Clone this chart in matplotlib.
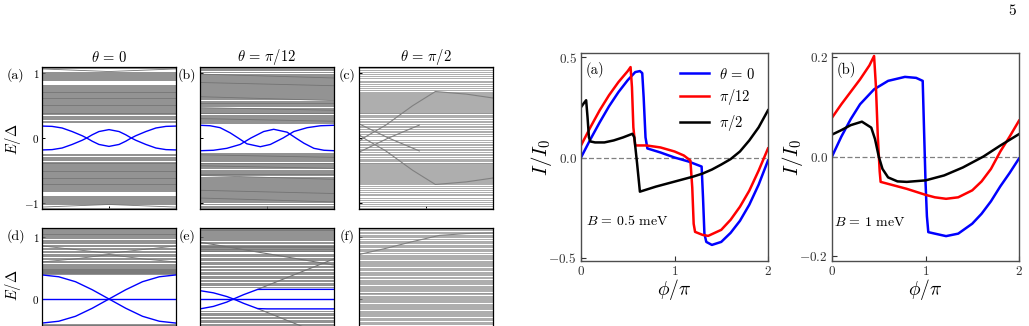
import matplotlib
matplotlib.use("Agg")
import matplotlib.pyplot as plt
import numpy as np

plt.rcParams.update({
    "font.family": "serif",
    "font.serif": ["cmr10", "DejaVu Serif"],
    "mathtext.fontset": "cm",
    "axes.formatter.use_mathtext": True,
    "axes.unicode_minus": True,
})

W, H = 1029, 326

# ---------------- spectra (left) : phi/pi in [0, 2] ----------------
# positive gray levels, drawn particle-hole symmetric (+E, -E)
A_levels = [0.25, 0.265, 0.29, 0.31, 0.33, 0.345, 0.365, 0.38, 0.395, 0.41,
            0.425, 0.44, 0.452, 0.466, 0.478, 0.49, 0.505, 0.518, 0.53,
            0.545, 0.558, 0.57, 0.585, 0.6, 0.612, 0.625, 0.64, 0.652,
            0.665, 0.68, 0.692, 0.705, 0.72, 0.732, 0.745, 0.76, 0.772,
            0.785, 0.80, 0.815, 0.905, 0.92, 0.935, 0.95, 0.965, 0.98,
            0.995, 1.01, 1.025, 1.085, 1.095, 1.10]
A_bend_phi = [0, 0.5, 1.0, 1.5, 2.0]
A_bend = [1.07, 1.05, 1.03, 1.05, 1.07]

B_levels = [0.235, 0.25, 0.265, 0.28, 0.30, 0.315, 0.33, 0.345, 0.36, 0.38,
            0.395, 0.41, 0.425, 0.44, 0.455, 0.47, 0.49, 0.505, 0.52, 0.535,
            0.55, 0.565, 0.58, 0.60, 0.615, 0.63, 0.645, 0.66, 0.675, 0.69,
            0.71, 0.725, 0.74, 0.755, 0.77, 0.785, 0.80, 0.82, 0.835, 0.85,
            0.865, 0.88, 0.895, 0.91, 0.93, 0.945, 0.96, 0.975, 0.99, 1.03,
            1.05, 1.065, 1.08, 1.095]
B_slant_l = [0.99, 0.86, 0.64, 0.47, 0.30]
B_slant_r = [0.93, 0.81, 0.58, 0.43, 0.26]

C_levels = [0.03, 0.06, 0.09, 0.11, 0.14, 0.17, 0.19, 0.22, 0.25, 0.27,
            0.30, 0.32, 0.34, 0.36, 0.38, 0.395, 0.41, 0.425, 0.44, 0.455,
            0.47, 0.485, 0.50, 0.515, 0.53, 0.545, 0.56, 0.575, 0.59, 0.605,
            0.62, 0.635, 0.65, 0.665, 0.68, 0.70, 0.72, 0.745, 0.77, 0.80,
            0.83, 0.86, 0.89, 0.93, 0.96, 0.99, 1.02, 1.05, 1.08]
C_arc_phi = [0, 0.1, 0.4, 0.8, 1.14, 1.6, 2.0]
C_arc = [-0.05, 0.02, 0.2, 0.5, 0.72, 0.68, 0.62]
C_x_phi = [0, 0.44, 0.9]
C_x = [0.22, 0.0, -0.2]

D_levels = [0.41, 0.418, 0.426, 0.434, 0.442, 0.45, 0.458, 0.466, 0.474,
            0.482, 0.49, 0.50, 0.515, 0.535, 0.555, 0.575, 0.60, 0.62, 0.64,
            0.665, 0.69, 0.71, 0.735, 0.76, 0.785, 0.81, 0.83, 0.855, 0.875,
            0.90, 0.92, 0.94, 0.96, 0.98, 1.00, 1.015, 1.03, 1.045, 1.06,
            1.075, 1.09, 1.105, 1.12, 1.135, 1.15]
D_bend_phi = [0, 0.5, 1.0, 1.5, 2.0]
D_bend_a = [0.86, 0.80, 0.74, 0.80, 0.86]
D_bend_b = [0.60, 0.65, 0.72, 0.65, 0.60]

E_levels = [0.20, 0.22, 0.245, 0.265, 0.29, 0.31, 0.335, 0.355, 0.38, 0.40,
            0.425, 0.445, 0.47, 0.49, 0.515, 0.535, 0.56, 0.58, 0.605, 0.625,
            0.65, 0.67, 0.695, 0.715, 0.735, 0.775, 0.785, 0.795, 0.805,
            0.815, 0.825, 0.835, 0.845, 0.855, 0.865, 0.875, 0.90, 0.925,
            0.95, 0.975, 0.99, 1.005, 1.02, 1.035, 1.05, 1.065, 1.08, 1.095,
            1.11, 1.125, 1.14]
E_slant_phi = [0.86, 2.0]
E_slant = [0.156, 0.65]
E_cross_phi = [0.0, 2.0]
E_cross = [0.92, 0.55]

F_levels = [-0.43, -0.41, -0.385, -0.365, -0.345, -0.32, -0.30, -0.28,
            -0.26, -0.245, -0.225, -0.205, -0.19, -0.17, -0.15, -0.13,
            -0.11, -0.095, -0.075, -0.055, -0.04, -0.02, 0.0, 0.015, 0.03,
            0.055, 0.075, 0.09, 0.105, 0.125, 0.145, 0.16, 0.175, 0.20, 0.215,
            0.235, 0.26, 0.275, 0.29, 0.315, 0.34, 0.36, 0.385, 0.41, 0.425,
            0.44, 0.47, 0.485, 0.50, 0.53, 0.545, 0.56, 0.58, 0.60, 0.62,
            0.64, 0.66, 0.68, 0.70, 0.72, 0.75, 0.77, 0.79, 0.81, 0.835,
            0.86, 0.88, 0.90, 0.92, 0.945, 0.97, 1.00, 1.02, 1.04, 1.07,
            1.09, 1.11, 1.13, 1.15]
F_arc_phi = [0, 0.4, 0.8, 1.2, 1.6, 2.0]
F_arc = [0.72, 0.82, 0.93, 1.03, 1.06, 1.07]

# Andreev (blue) levels
a_phi = [0, 0.15, 0.3, 0.45, 0.6, 0.667, 0.75, 0.85, 1.0,
         1.15, 1.25, 1.333, 1.4, 1.55, 1.7, 1.85, 2.0]
a_blue = [0.185, 0.18, 0.155, 0.10, 0.035, 0.0, -0.05, -0.1, -0.13,
          -0.1, -0.05, 0.0, 0.035, 0.10, 0.155, 0.18, 0.185]
b_phi = [0, 0.15, 0.3, 0.45, 0.57, 0.7, 0.9, 1.05, 1.24, 1.4, 1.6, 1.8, 2.0]
b_blue = [0.197, 0.19, 0.16, 0.08, 0.0, -0.09, -0.135, -0.1, 0.0, 0.1,
          0.16, 0.19, 0.197]
d_phi = [0, 0.25, 0.5, 0.75, 1.0, 1.25, 1.5, 1.75, 2.0]
d_blue = [0.39, 0.36, 0.28, 0.15, 0.0, -0.15, -0.28, -0.36, -0.39]
e_phi = [0, 0.2, 0.4, 0.5, 0.65, 0.86, 1.0, 1.5, 2.0]
e_blue_1 = [0.135, 0.10, 0.04, 0.0, -0.07, -0.155, -0.16, -0.16, -0.16]
e_blue_2 = [-0.16, -0.12, -0.05, 0.0, 0.07, 0.155, 0.156, 0.156, 0.156]

# ---------------- current-phase relations (right) ----------------
pa_blue = [0, 0.1, 0.2, 0.3, 0.4, 0.5, 0.58, 0.63, 0.655, 0.67, 0.69, 0.71,
           0.85, 1.0, 1.15, 1.29, 1.305, 1.32, 1.34, 1.4, 1.5, 1.6, 1.7,
           1.8, 1.9, 2.0]
Ia_blue = [0.0, 0.09, 0.175, 0.255, 0.325, 0.385, 0.425, 0.43, 0.42, 0.3,
           0.1, 0.045, 0.025, 0.0, -0.02, -0.045, -0.2, -0.38, -0.42, -0.435,
           -0.42, -0.375, -0.315, -0.235, -0.135, -0.015]
pa_red = [0, 0.1, 0.2, 0.3, 0.4, 0.5, 0.53, 0.545, 0.56, 0.58, 0.7, 0.85,
          1.0, 1.1, 1.17, 1.19, 1.205, 1.22, 1.3, 1.36, 1.5, 1.6, 1.7, 1.8,
          1.9, 2.0]
Ia_red = [0.06, 0.15, 0.235, 0.31, 0.375, 0.43, 0.45, 0.35, 0.15, 0.06,
          0.06, 0.05, 0.03, 0.01, -0.015, -0.15, -0.33, -0.37, -0.385, -0.39,
          -0.36, -0.31, -0.245, -0.165, -0.065, 0.045]
pa_black = [0, 0.03, 0.055, 0.07, 0.085, 0.1, 0.15, 0.25, 0.35, 0.45, 0.55,
            0.57, 0.6, 0.63, 0.8, 1.0, 1.2, 1.3, 1.4, 1.5, 1.6, 1.7, 1.8,
            1.9, 2.0]
Ia_black = [0.25, 0.27, 0.285, 0.2, 0.1, 0.08, 0.075, 0.075, 0.085, 0.10,
            0.118, 0.1, -0.03, -0.17, -0.145, -0.12, -0.095, -0.08, -0.06,
            -0.035, -0.008, 0.03, 0.085, 0.15, 0.235]

pb_blue = [0, 0.1, 0.2, 0.3, 0.45, 0.6, 0.78, 0.9, 0.97, 0.985, 1.0, 1.015,
           1.03, 1.1, 1.22, 1.35, 1.5, 1.6, 1.7, 1.8, 1.9, 2.0]
Ib_blue = [0.0, 0.04, 0.075, 0.105, 0.135, 0.152, 0.16, 0.158, 0.152, 0.05,
           -0.05, -0.12, -0.152, -0.155, -0.16, -0.155, -0.135, -0.115,
           -0.09, -0.06, -0.033, -0.004]
pb_red = [0, 0.1, 0.2, 0.3, 0.4, 0.45, 0.47, 0.49, 0.51, 0.52, 0.6, 0.8,
          1.0, 1.1, 1.22, 1.35, 1.5, 1.6, 1.7, 1.8, 1.9, 2.0]
Ib_red = [0.078, 0.105, 0.13, 0.155, 0.183, 0.202, 0.14, 0.04, -0.03,
          -0.051, -0.055, -0.065, -0.077, -0.082, -0.085, -0.082, -0.068,
          -0.05, -0.025, 0.01, 0.04, 0.072]
pb_black = [0, 0.1, 0.2, 0.32, 0.42, 0.46, 0.5, 0.54, 0.6, 0.7, 0.8, 1.0,
            1.2, 1.4, 1.62, 1.8, 2.0]
Ib_black = [0.044, 0.053, 0.063, 0.07, 0.058, 0.035, 0.0, -0.025, -0.042,
            -0.05, -0.051, -0.048, -0.038, -0.022, 0.0, 0.022, 0.045]

theta_labels = [r"$\theta\,=\,0$", r"$\pi/12$", r"$\pi/2$"]
panel_titles = [r"$\theta\,=\,0$", r"$\theta\,=\,\pi/12$", r"$\theta\,=\,\pi/2$"]


def rect(left, top, width, height):
    return [left / W, 1 - (top + height) / H, width / W, height / H]


def levels(ax, pos, color="0.45", lw=0.55, mirror=True):
    pos = np.asarray(pos)
    if mirror:
        pos = np.concatenate([pos, -pos])
    ax.hlines(pos, 0, 2, colors=color, lw=lw)


def spec_axes(left, top, ylim, yticks, labels):
    ax = fig.add_axes(rect(left, top, 134, 142))
    ax.set_xlim(0, 2)
    ax.set_ylim(*ylim)
    ax.set_xticks([1])
    ax.set_xticklabels([])
    ax.set_yticks(yticks)
    if labels:
        ax.set_yticklabels([f"${t}$" for t in yticks])
    else:
        ax.set_yticklabels([])
    ax.tick_params(direction="in", length=2.5, width=0.7, labelsize=8, pad=2)
    for s in ax.spines.values():
        s.set_linewidth(0.9)
        s.set_zorder(5)
    return ax


fig = plt.figure(figsize=(W / 100, H / 100), dpi=100)

lefts = [42, 200, 359]
top_lim = (-1.1, 1.1)
bot_lim = (-1.15, 1.15)

# (a)
ax = spec_axes(lefts[0], 67, top_lim, [-1, 0, 1], True)
levels(ax, A_levels)
ax.plot(A_bend_phi, A_bend, color="0.45", lw=0.6)
ax.plot(A_bend_phi, -np.asarray(A_bend), color="0.45", lw=0.6)
ax.plot(a_phi, a_blue, color="blue", lw=1.0)
ax.plot(a_phi, -np.asarray(a_blue), color="blue", lw=1.0)

# (b)
ax = spec_axes(lefts[1], 67, top_lim, [-1, 0, 1], False)
levels(ax, B_levels)
for l, r in zip(B_slant_l, B_slant_r):
    ax.plot([0, 2], [l, r], color="0.45", lw=0.6)
    ax.plot([0, 2], [-r, -l], color="0.45", lw=0.6)
ax.plot(b_phi, b_blue, color="blue", lw=1.0)
ax.plot(2 - np.asarray(b_phi), -np.asarray(b_blue), color="blue", lw=1.0)

# (c)
ax = spec_axes(lefts[2], 67, top_lim, [-1, 0, 1], False)
levels(ax, C_levels, color="0.55", lw=0.5)
ax.plot(C_arc_phi, C_arc, color="0.5", lw=0.8)
ax.plot(C_arc_phi, -np.asarray(C_arc), color="0.5", lw=0.8)
ax.plot(C_x_phi, C_x, color="0.5", lw=0.8)
ax.plot(C_x_phi, -np.asarray(C_x), color="0.5", lw=0.8)

for left, title in zip(lefts, panel_titles):
    fig.text((left + 67) / W, 1 - 57 / H, title, ha="center", va="center",
             fontsize=10.5)

# (d)
ax = spec_axes(lefts[0], 228, bot_lim, [0, 1], True)
levels(ax, D_levels)
for bend in (D_bend_a, D_bend_b):
    ax.plot(D_bend_phi, bend, color="0.45", lw=0.6)
ax.axhline(0, color="blue", lw=1.0)
ax.plot(d_phi, d_blue, color="blue", lw=1.0)
ax.plot(d_phi, -np.asarray(d_blue), color="blue", lw=1.0)

# (e)
ax = spec_axes(lefts[1], 228, bot_lim, [0, 1], False)
levels(ax, E_levels)
ax.plot(E_slant_phi, E_slant, color="0.45", lw=0.8)
ax.plot(E_slant_phi, -np.asarray(E_slant), color="0.45", lw=0.8)
ax.plot(E_cross_phi, E_cross, color="0.45", lw=0.8)
ax.axhline(0, color="blue", lw=1.0)
ax.plot(e_phi, e_blue_1, color="blue", lw=1.0)
ax.plot(e_phi, e_blue_2, color="blue", lw=1.0)

# (f)
ax = spec_axes(lefts[2], 228, bot_lim, [0, 1], False)
levels(ax, F_levels, color="0.55", lw=0.5, mirror=False)
ax.plot(F_arc_phi, F_arc, color="0.5", lw=0.8)

for txt, x, y in [("(a)", 15, 75), ("(b)", 187, 75), ("(c)", 347, 75),
                  ("(d)", 16, 236), ("(e)", 187, 236), ("(f)", 347, 236)]:
    fig.text(x / W, 1 - y / H, txt, ha="center", va="center", fontsize=10)
fig.text(13 / W, 1 - 139 / H, r"$E/\Delta$", rotation=90, ha="center",
         va="center", fontsize=10.5)
fig.text(13 / W, 1 - 285 / H, r"$E/\Delta$", rotation=90, ha="center",
         va="center", fontsize=10.5)


# ---------------- right panels ----------------
def cpr_axes(left, ylim, yticks):
    ax = fig.add_axes(rect(left, 53, 187, 208))
    ax.set_xlim(0, 2)
    ax.set_ylim(*ylim)
    ax.set_xticks([0, 1, 2])
    ax.set_yticks(yticks)
    ax.tick_params(direction="in", length=3.5, width=0.8, labelsize=9.5,
                   colors="0.2", pad=3)
    for s in ax.spines.values():
        s.set_linewidth(1.0)
        s.set_color("0.3")
    ax.axhline(0, color="0.5", lw=0.9, ls=(0, (4, 2)))
    ax.set_xlabel(r"$\phi/\pi$", fontsize=14, labelpad=-1)
    ax.set_ylabel(r"$I/I_0$", fontsize=15, labelpad=-4)
    return ax


ax = cpr_axes(581, (-0.515, 0.52), [-0.5, 0.0, 0.5])
ax.plot(pa_blue, Ia_blue, color="blue", lw=1.8, label=theta_labels[0])
ax.plot(pa_red, Ia_red, color="red", lw=1.8, label=theta_labels[1])
ax.plot(pa_black, Ia_black, color="black", lw=1.8, label=theta_labels[2])
ax.legend(loc="upper left", bbox_to_anchor=(0.53, 0.935), frameon=False,
          fontsize=10.5, handlelength=2.0, handletextpad=0.7,
          labelspacing=0.4, borderpad=0, borderaxespad=0)
ax.text(0.025, 0.92, "(a)", transform=ax.transAxes, fontsize=10.5,
        va="center")
ax.text(0.025, 0.19, r"$B\,=\,0.5$ meV", transform=ax.transAxes,
        fontsize=10, va="center")

ax = cpr_axes(832, (-0.21, 0.208), [-0.2, 0.0, 0.2])
ax.plot(pb_blue, Ib_blue, color="blue", lw=1.8)
ax.plot(pb_red, Ib_red, color="red", lw=1.8)
ax.plot(pb_black, Ib_black, color="black", lw=1.8)
ax.text(0.025, 0.92, "(b)", transform=ax.transAxes, fontsize=10.5,
        va="center")
ax.text(0.01, 0.185, r"$B\,=\,1$ meV", transform=ax.transAxes, fontsize=10,
        va="center")

fig.text(1012 / W, 1 - 11 / H, "5", ha="center", va="center", fontsize=11)

fig.savefig("out.png", dpi=100)
